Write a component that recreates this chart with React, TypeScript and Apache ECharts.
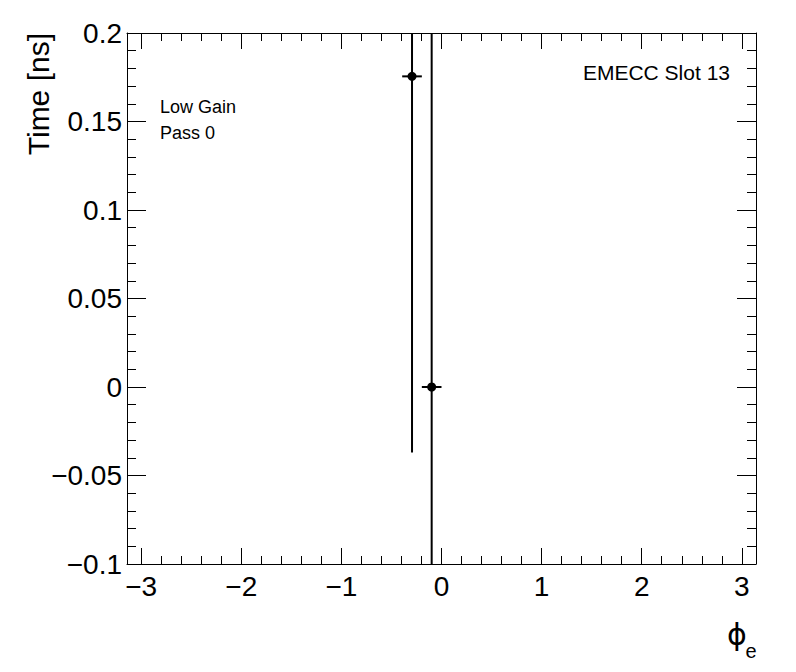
import React, { useEffect, useRef } from "react";
import * as echarts from "echarts";

// ---- data ----
const phiCenters = [-0.2945, -0.0982];
const phiHalfWidths = [0.0982, 0.0982];
const timeValues = [0.1755, 0.0];
const timeErrors = [0.2125, 0.35];

const xMajorTicks = [-3, -2, -1, 0, 1, 2, 3];
const xMinorTicks = [
  -2.8, -2.6, -2.4, -2.2, -1.8, -1.6, -1.4, -1.2, -0.8, -0.6, -0.4, -0.2,
  0.2, 0.4, 0.6, 0.8, 1.2, 1.4, 1.6, 1.8, 2.2, 2.4, 2.6, 2.8,
];
const xMin = -Math.PI;
const xMax = Math.PI;
const yMin = -0.1;
const yMax = 0.2;
const yInterval = 0.05;

const FONT = "'Liberation Sans', Arial, Helvetica, sans-serif";

const fmt = (v: number) => {
  const s = String(Math.round(v * 1000) / 1000);
  return s.replace("-", "\u2212");
};

export default function App() {
  const ref = useRef<HTMLDivElement>(null);
  useEffect(() => {
    if (!ref.current) return;
    const chart = echarts.init(ref.current, null, { renderer: "svg" });
    const lineStyle = { color: "#000", width: 1 };
    const baseX = {
      type: "value",
      min: xMin,
      max: xMax,
      splitLine: { show: false },
    };
    const data = phiCenters.map((x, i) => [x, timeValues[i], phiHalfWidths[i], timeErrors[i]]);
    chart.setOption({
      animation: false,
      backgroundColor: "#fff",
      grid: { left: 127, top: 33, right: 40, bottom: 108, containLabel: false },
      xAxis: [
        {
          ...baseX,
          position: "bottom",
          axisLine: { show: true, onZero: false, lineStyle },
          axisTick: { show: true, inside: true, length: 16, lineStyle, customValues: xMajorTicks },
          axisLabel: {
            show: true,
            customValues: xMajorTicks,
            formatter: (v: number) => fmt(v),
            color: "#000",
            fontSize: 28,
            fontFamily: FONT,
            margin: 8,
          },
        },
        {
          ...baseX,
          position: "bottom",
          axisLine: { show: false, onZero: false },
          axisTick: { show: true, inside: true, length: 8, lineStyle, customValues: xMinorTicks },
          axisLabel: { show: false },
        },
        {
          ...baseX,
          position: "top",
          axisLine: { show: true, onZero: false, lineStyle },
          axisTick: { show: true, inside: true, length: 16, lineStyle, customValues: xMajorTicks },
          axisLabel: { show: false },
        },
        {
          ...baseX,
          position: "top",
          axisLine: { show: false, onZero: false },
          axisTick: { show: true, inside: true, length: 8, lineStyle, customValues: xMinorTicks },
          axisLabel: { show: false },
        },
      ],
      yAxis: [
        {
          type: "value",
          position: "left",
          min: yMin,
          max: yMax,
          interval: yInterval,
          splitLine: { show: false },
          axisLine: { show: true, onZero: false, lineStyle },
          axisTick: { show: true, inside: true, length: 19, lineStyle },
          minorTick: { show: true, splitNumber: 5, length: 9, lineStyle },
          axisLabel: {
            formatter: (v: number) => fmt(v),
            color: "#000",
            fontSize: 28,
            fontFamily: FONT,
            margin: 5,
          },
        },
        {
          type: "value",
          position: "right",
          min: yMin,
          max: yMax,
          interval: yInterval,
          splitLine: { show: false },
          axisLine: { show: true, onZero: false, lineStyle },
          axisTick: { show: true, inside: true, length: 19, lineStyle },
          minorTick: { show: true, splitNumber: 5, length: 9, lineStyle },
          axisLabel: { show: false },
        },
      ],
      series: [
        {
          type: "custom",
          xAxisIndex: 0,
          yAxisIndex: 0,
          data,
          renderItem: (params: any, api: any) => {
            const x = api.value(0);
            const y = api.value(1);
            const xe = api.value(2);
            const ye = api.value(3);
            const cs = params.coordSys;
            const clampY = (v: number) => Math.max(cs.y, Math.min(cs.y + cs.height, v));
            const c = api.coord([x, y]);
            const l = api.coord([x - xe, y]);
            const r = api.coord([x + xe, y]);
            const t = api.coord([x, y + ye]);
            const b = api.coord([x, y - ye]);
            const st = { stroke: "#000", lineWidth: 2 };
            return {
              type: "group",
              children: [
                { type: "line", shape: { x1: c[0], y1: clampY(t[1]), x2: c[0], y2: clampY(b[1]) }, style: st },
                { type: "line", shape: { x1: l[0], y1: c[1], x2: r[0], y2: c[1] }, style: st },
                { type: "circle", shape: { cx: c[0], cy: c[1], r: 4.5 }, style: { fill: "#000" } },
              ],
            };
          },
        },
      ],
      graphic: [
        {
          type: "text",
          x: 38,
          y: 33,
          rotation: Math.PI / 2,
          style: {
            text: "Time [ns]",
            font: `30px ${FONT}`,
            fill: "#000",
            align: "right",
            verticalAlign: "middle",
          },
        },
        {
          type: "text",
          x: 160,
          y: 107,
          style: { text: "Low Gain", font: `18px ${FONT}`, fill: "#000", align: "left", verticalAlign: "middle" },
        },
        {
          type: "text",
          x: 160,
          y: 133,
          style: { text: "Pass 0", font: `18px ${FONT}`, fill: "#000", align: "left", verticalAlign: "middle" },
        },
        {
          type: "text",
          x: 730,
          y: 72,
          style: { text: "EMECC Slot 13", font: `21px ${FONT}`, fill: "#000", align: "right", verticalAlign: "middle" },
        },
        {
          type: "text",
          x: 737,
          y: 634,
          style: { text: "\u03d5", font: `30px 'DejaVu Sans', sans-serif`, fill: "#000", align: "center", verticalAlign: "middle" },
        },
        {
          type: "text",
          x: 751,
          y: 651,
          style: { text: "e", font: `20px ${FONT}`, fill: "#000", align: "center", verticalAlign: "middle" },
        },
      ],
    });
    return () => chart.dispose();
  }, []);
  return (
    <div
      ref={ref}
      style={{ position: "fixed", left: 0, top: 0, width: 796, height: 672, background: "#fff" }}
    />
  );
}
